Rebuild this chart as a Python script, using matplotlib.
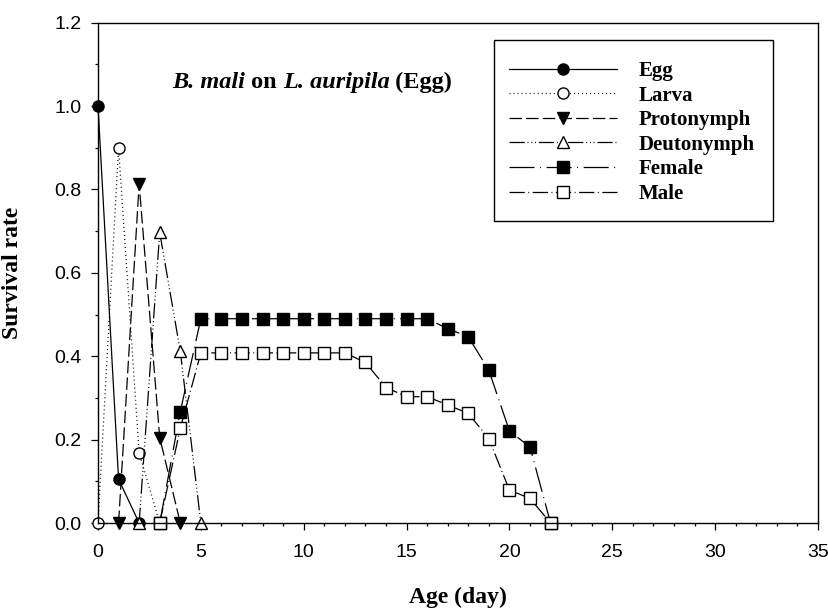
import matplotlib
matplotlib.use("Agg")
import matplotlib.pyplot as plt
from matplotlib.ticker import MultipleLocator
from matplotlib.patches import Rectangle

plt.rcParams['lines.scale_dashes'] = False

# ---- data ----
egg_x = [0, 1, 2]
egg_y = [1.0, 0.105, 0.0]
larva_x = [0, 1, 2, 3]
larva_y = [0.0, 0.90, 0.168, 0.0]
proto_x = [1, 2, 3, 4]
proto_y = [0.0, 0.813, 0.205, 0.0]
deuto_x = [2, 3, 4, 5]
deuto_y = [0.0, 0.697, 0.412, 0.0]
female_x = list(range(3, 23))
female_y = [0.0, 0.267, 0.49, 0.49, 0.49, 0.49, 0.49, 0.49, 0.49, 0.49,
            0.49, 0.49, 0.49, 0.49, 0.466, 0.447, 0.366, 0.221, 0.182, 0.0]
male_x = list(range(3, 23))
male_y = [0.0, 0.227, 0.408, 0.408, 0.408, 0.408, 0.408, 0.408, 0.408, 0.408,
          0.385, 0.325, 0.303, 0.303, 0.283, 0.263, 0.202, 0.079, 0.059, 0.0]

labels = ['Egg', 'Larva', 'Protonymph', 'Deutonymph', 'Female', 'Male']
xticks = [0, 5, 10, 15, 20, 25, 30, 35]
yticks = [0.0, 0.2, 0.4, 0.6, 0.8, 1.0, 1.2]

fig = plt.figure(figsize=(8.29, 6.08), dpi=100)
ax = fig.add_axes([98/829, 1-523/608, 720/829, 500.3/608])

lw = 0.9
ms = 8
series = [
    (egg_x, egg_y, '-', 'o', 'black'),
    (larva_x, larva_y, (0, (0.7, 2.2)), 'o', 'white'),
    (proto_x, proto_y, (0, (9, 3)), 'v', 'black'),
    (deuto_x, deuto_y, (0, (11, 2, 0.7, 2, 0.7, 2, 0.7, 2)), '^', 'white'),
    (female_x, female_y, (0, (18, 4, 0.7, 4)), 's', 'black'),
    (male_x, male_y, (0, (11, 2.5, 0.7, 2.5)), 's', 'white'),
]
for (xs, ys, ls, mk, fc), lab in zip(series, labels):
    ax.plot(xs, ys, linestyle=ls, color='black', lw=lw, marker=mk, ms=ms,
            mfc=fc, mec='black', mew=1.0, label=lab, clip_on=False)

ax.set_xlim(0, 35)
ax.set_ylim(0, 1.2)
ax.set_xticks(xticks)
ax.set_yticks(yticks)
ax.set_yticklabels([f'{v:.1f}' for v in yticks])
ax.xaxis.set_minor_locator(MultipleLocator(1))
ax.yaxis.set_minor_locator(MultipleLocator(0.1))
ax.tick_params(which='major', direction='out', length=5, width=0.9,
               top=False, right=False, labelsize=14)
ax.tick_params(which='minor', direction='out', length=2.5, width=0.9,
               top=False, right=False)
ax.tick_params(axis='x', which='major', pad=10)
ax.tick_params(axis='y', which='major', pad=7)
for lbl in ax.get_xticklabels() + ax.get_yticklabels():
    lbl.set_fontfamily('Liberation Sans')
for sp in ax.spines.values():
    sp.set_linewidth(1.0)

ax.set_xlabel('Age (day)', fontfamily='Liberation Serif', fontweight='bold', fontsize=17)
ax.set_ylabel('Survival rate', fontfamily='Liberation Serif', fontweight='bold', fontsize=17)
ax.xaxis.set_label_coords(0.5, -0.127)
ax.yaxis.set_label_coords(-0.104, 0.5)

# annotation in mixed styles
fs_a = 17.5
t1 = ax.text(3.6, 1.043, 'B. mali', fontfamily='Liberation Serif', fontweight='bold',
             fontstyle='italic', fontsize=fs_a, va='baseline')
t2 = ax.annotate(' on ', xy=(1, 0), xycoords=t1, va='bottom', ha='left',
                 fontfamily='Liberation Serif', fontweight='bold', fontsize=fs_a)
t3 = ax.annotate('L. auripila', xy=(1, 0), xycoords=t2, va='bottom', ha='left',
                 fontfamily='Liberation Serif', fontweight='bold', fontstyle='italic', fontsize=fs_a)
t4 = ax.annotate(' (Egg)', xy=(1, 0), xycoords=t3, va='bottom', ha='left',
                 fontfamily='Liberation Serif', fontweight='bold', fontsize=fs_a)

# legend box frame
ax.add_patch(Rectangle(((494-98)/720, (523-221)/500.3), (773-494)/720, (221-40)/500.3,
                       transform=ax.transAxes, facecolor='white', edgecolor='black',
                       lw=1.0, zorder=4, clip_on=False))
leg = ax.legend(loc='upper left', bbox_to_anchor=((509-98)/720, (523-61)/500.3),
                borderaxespad=0, borderpad=0,
                prop={'family': 'Liberation Serif', 'weight': 'bold', 'size': 15},
                handlelength=5.2, handletextpad=1.0, labelspacing=0.22,
                numpoints=1, frameon=False)
leg.set_zorder(5)

fig.savefig('out.png', dpi=100)
